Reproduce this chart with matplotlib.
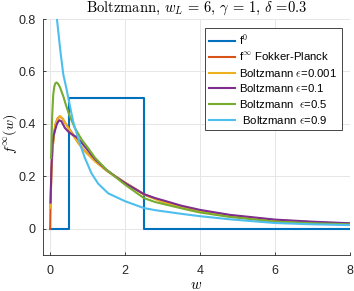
import matplotlib
matplotlib.use("Agg")
import matplotlib.pyplot as plt

plt.rcParams['font.family'] = ['Liberation Sans', 'DejaVu Sans']
plt.rcParams['mathtext.fontset'] = 'cm'

# ---- data ----
w_f0 = [0.0, 0.5, 0.5, 2.5, 2.5, 8.0]
f0 = [0.0, 0.0, 0.5, 0.5, 0.0, 0.0]

w_fp = [0.0, 0.01, 0.03, 0.06, 0.1, 0.14, 0.2, 0.26, 0.33, 0.4, 0.5, 0.6, 0.75, 0.9, 1.0,
        1.2, 1.5, 1.75, 2.0, 2.5, 3.0, 3.5, 4.0, 5.0, 6.0, 7.0, 8.0]
f_fp = [0.0, 0.1, 0.21, 0.3, 0.36, 0.398, 0.422, 0.428, 0.42, 0.404, 0.382, 0.362, 0.328,
        0.3, 0.286, 0.258, 0.223, 0.199, 0.176, 0.132, 0.104, 0.084, 0.068, 0.047, 0.033,
        0.025, 0.019]

w_e0001 = [0.01, 0.03, 0.06, 0.1, 0.14, 0.2, 0.26, 0.33, 0.4, 0.5, 0.57, 0.75, 0.9, 1.0,
           1.2, 1.5, 1.75, 2.0, 2.5, 3.0, 3.5, 4.0, 5.0, 6.0, 7.0, 8.0]
f_e0001 = [0.08, 0.2, 0.3, 0.36, 0.397, 0.42, 0.43, 0.42, 0.403, 0.38, 0.365, 0.327, 0.3,
           0.285, 0.257, 0.222, 0.198, 0.175, 0.13, 0.102, 0.083, 0.067, 0.046, 0.032,
           0.024, 0.019]

w_e01 = [0.01, 0.03, 0.06, 0.09, 0.12, 0.18, 0.24, 0.3, 0.39, 0.5, 0.6, 0.7, 0.8, 1.0, 1.2,
         1.5, 1.73, 2.0, 2.5, 2.8, 3.0, 3.5, 4.0, 4.8, 6.0, 7.0, 8.0]
f_e01 = [0.1, 0.22, 0.32, 0.355, 0.371, 0.4, 0.414, 0.41, 0.385, 0.368, 0.358, 0.35, 0.335,
         0.3, 0.265, 0.225, 0.2, 0.174, 0.132, 0.117, 0.109, 0.088, 0.072, 0.053, 0.035,
         0.027, 0.021]

w_e05 = [0.02, 0.03, 0.05, 0.08, 0.11, 0.14, 0.17, 0.21, 0.26, 0.35, 0.43, 0.52, 0.66, 0.84,
         1.0, 1.2, 1.5, 2.0, 2.5, 2.8, 3.5, 4.0, 4.8, 6.0, 7.0, 8.0]
f_e05 = [0.27, 0.3, 0.42, 0.51, 0.543, 0.555, 0.558, 0.553, 0.54, 0.505, 0.467, 0.43, 0.384,
         0.34, 0.31, 0.27, 0.225, 0.168, 0.117, 0.102, 0.078, 0.062, 0.045, 0.027, 0.021,
         0.017]

w_e09 = [0.08, 0.12, 0.18, 0.27, 0.35, 0.43, 0.52, 0.61, 0.67, 0.75, 0.84, 0.92, 1.1, 1.28,
         1.55, 2.0, 2.5, 2.8, 3.5, 4.0, 4.8, 6.0, 7.0, 8.0]
f_e09 = [1.15, 0.97, 0.8, 0.68, 0.588, 0.537, 0.473, 0.41, 0.38, 0.345, 0.305, 0.272, 0.212,
         0.172, 0.135, 0.105, 0.079, 0.071, 0.057, 0.048, 0.036, 0.022, 0.017, 0.014]

labels = [r"f$^0$", r"f$^\infty$ Fokker-Planck", r"Boltzmann $\epsilon$=0.001",
          r"Boltzmann $\epsilon$=0.1", r"Boltzmann  $\epsilon$=0.5", r" Boltzmann $\epsilon$=0.9"]
colors = ['#0072BD', '#D95319', '#EDB120', '#7E2F8E', '#77AC30', '#4DBEEE']

xticks = [0, 2, 4, 6, 8]
yticks = [0, 0.2, 0.4, 0.6, 0.8]
ytick_labels = ['0', '0.2', '0.4', '0.6', '0.8']

# ---- figure ----
fig = plt.figure(figsize=(3.54, 2.91), dpi=100)
ax = fig.add_axes([42.7 / 354, 36 / 291, (350 - 42.7) / 354, (255 - 19) / 291])

series = [(w_f0, f0), (w_fp, f_fp), (w_e0001, f_e0001), (w_e01, f_e01),
          (w_e05, f_e05), (w_e09, f_e09)]
for (xs, ys), c, lab in zip(series, colors, labels):
    ax.plot(xs, ys, color=c, lw=1.5, label=lab)

ax.set_xlim(-0.2, 8)
ax.set_ylim(-0.1, 0.8)
ax.set_xticks(xticks)
ax.set_yticks(yticks)
ax.set_yticklabels(ytick_labels)
ax.grid(True, color='#e6e6e6', lw=0.7)
ax.set_axisbelow(True)

axc = '#262626'
for s in ['top', 'right']:
    ax.spines[s].set_visible(False)
for s in ['left', 'bottom']:
    ax.spines[s].set_color(axc)
    ax.spines[s].set_linewidth(0.6)
ax.tick_params(direction='in', length=2.5, width=0.6, color=axc, labelcolor=axc,
               labelsize=9)
ax.tick_params(axis='y', pad=5)
ax.tick_params(axis='x', pad=7)

ax.set_title(r"Boltzmann, $w_L$ = 6, $\gamma$ = 1, $\delta$ =0.3", fontsize=10.5,
             fontfamily='cmr10', pad=5, color='black')
ax.set_xlabel(r"$w$", fontsize=10.5, labelpad=1)
ax.set_ylabel(r"$f^\infty(w)$", fontsize=10)
ax.yaxis.set_label_coords(-0.078, 0.515)

leg = ax.legend(loc='upper right', bbox_to_anchor=(0.974, 0.962), borderaxespad=0,
                fontsize=8.2, frameon=True, fancybox=False, framealpha=1,
                edgecolor=axc, handlelength=2.3, handletextpad=0.35,
                labelspacing=0.32, borderpad=0.4)
leg.get_frame().set_linewidth(0.6)

fig.savefig('out.png', dpi=100)
